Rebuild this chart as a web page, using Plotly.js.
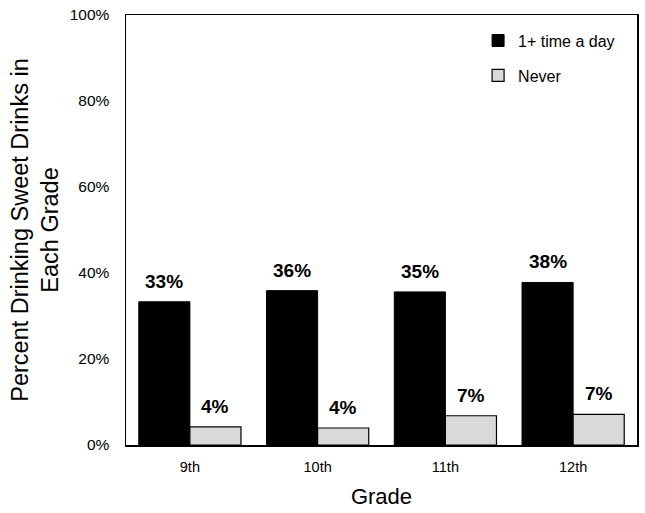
<!DOCTYPE html>
<html>
<head>
<meta charset="utf-8">
<script src="https://cdn.plot.ly/plotly-3.0.1.min.js"></script>
<style>html,body{margin:0;padding:0;background:#fff;}#chart{width:645px;height:513px;}</style>
</head>
<body>
<div id="chart"></div>
<script>
const grades = ["9th", "10th", "11th", "12th"];
const daily = [33.3, 35.9, 35.6, 37.8];
const never = [4.2, 3.95, 6.8, 7.1];
const dailyLabels = ["33%", "36%", "35%", "38%"];
const neverLabels = ["4%", "4%", "7%", "7%"];
const yTicks = [0, 20, 40, 60, 80, 100];
const yTickLabels = ["0%", "20%", "40%", "60%", "80%", "100%"];

const font = "Liberation Sans, Arial, sans-serif";

const traces = [
  {type: "bar", name: "1+ time a day", x: grades, y: daily, legendgroup: "a",
   marker: {color: "#000000", line: {color: "#000000", width: 1}}, hoverinfo: "none"},
  {type: "bar", name: "Never", x: grades, y: never, legendgroup: "b",
   marker: {color: "#d9d9d9", line: {color: "#000000", width: 1.2}}, hoverinfo: "none"}
];

const annotations = [];
grades.forEach((g, i) => {
  annotations.push({x: g, y: daily[i], text: "<b>" + dailyLabels[i] + "</b>", showarrow: false, xanchor: "center", yanchor: "bottom",
    xshift: -25.5, yshift: 8, font: {family: font, size: 19, color: "#000"}});
  annotations.push({x: g, y: never[i], text: "<b>" + neverLabels[i] + "</b>", showarrow: false, xanchor: "center", yanchor: "bottom",
    xshift: 25.5, yshift: 8, font: {family: font, size: 19, color: "#000"}});
});

const layout = {
  width: 645, height: 513,
  margin: {l: 126, r: 8, t: 15, b: 68},
  paper_bgcolor: "#fff", plot_bgcolor: "#fff",
  font: {family: font, color: "#000"},
  barmode: "group", bargap: 0.2, bargroupgap: 0,
  showlegend: true,
  legend: {x: 0.689, y: 0.98, xanchor: "left", yanchor: "top", bgcolor: "rgba(0,0,0,0)",
    font: {family: font, size: 16, color: "#000"}, traceorder: "grouped", tracegroupgap: 11, itemwidth: 30},
  xaxis: {
    showline: true, linecolor: "#000", linewidth: 1.5, mirror: true,
    ticks: "", tickfont: {family: font, size: 14.5, color: "#000"}, ticklabelstandoff: 8,
    title: {text: "Grade", font: {family: font, size: 22, color: "#000"}, standoff: 14}
  },
  yaxis: {
    range: [0, 100], tickvals: yTicks, ticktext: yTickLabels,
    showline: true, linecolor: "#000", linewidth: 1.5, mirror: true,
    showgrid: false, zeroline: false, ticks: "",
    tickfont: {family: font, size: 15.5, color: "#000"}, ticklabelstandoff: 12,
    title: {text: "Percent Drinking Sweet Drinks in<br>Each Grade", font: {family: font, size: 23.5, color: "#000"}, standoff: 4}
  },
  annotations: annotations
};

Plotly.newPlot("chart", traces, layout, {staticPlot: true, displayModeBar: false});
</script>
</body>
</html>
